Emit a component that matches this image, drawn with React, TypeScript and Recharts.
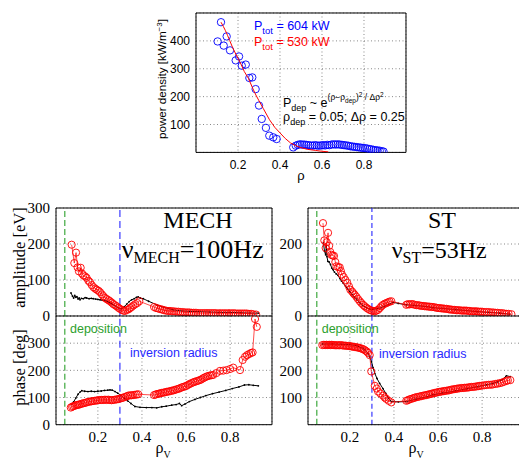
import React from 'react';
import { ComposedChart, Scatter, XAxis, YAxis, CartesianGrid, ReferenceLine } from 'recharts';

type P = [number, number];

// ---------- top panel: power density ----------
const powerMeasured: P[] = [
  [0.103, 398], [0.119, 467], [0.132, 383], [0.146, 416], [0.162, 366], [0.189, 330], [0.205, 344],
  [0.218, 311], [0.237, 315], [0.254, 267], [0.268, 269], [0.284, 227], [0.3, 168], [0.313, 120],
  [0.333, 88], [0.349, 60], [0.368, 54], [0.384, 48], [0.463, 18], [0.475, 24], [0.485, 27],
  [0.495, 29], [0.505, 28], [0.515, 28], [0.525, 27], [0.535, 26], [0.545, 25], [0.555, 24],
  [0.565, 26], [0.575, 25], [0.585, 24], [0.595, 25], [0.605, 26], [0.615, 25], [0.625, 27],
  [0.635, 26], [0.645, 28], [0.655, 29], [0.665, 28], [0.675, 29], [0.685, 28], [0.695, 27],
  [0.705, 26], [0.715, 25], [0.725, 24], [0.735, 22], [0.745, 21], [0.755, 20], [0.765, 19],
  [0.775, 18], [0.785, 17], [0.795, 16], [0.805, 15], [0.815, 14], [0.825, 12], [0.835, 11],
  [0.845, 9], [0.855, 8], [0.865, 7], [0.875, 6], [0.885, 4], [0.893, 3],
];
const powerFit: P[] = [
  [0.119, 467], [0.13, 452], [0.14, 437], [0.15, 420], [0.16, 402], [0.175, 375], [0.19, 352],
  [0.2, 338], [0.215, 315], [0.23, 290], [0.25, 265], [0.27, 230], [0.285, 206], [0.3, 185],
  [0.32, 158], [0.35, 117], [0.375, 90], [0.4, 70], [0.425, 50], [0.45, 34], [0.475, 24],
  [0.5, 17], [0.53, 11], [0.57, 7], [0.6, 4], [0.63, 2],
];
const topXTicks = [0.2, 0.4, 0.6, 0.8];
const topYTicks = [100, 200, 300, 400];

// ---------- MECH panels ----------
const mechAmpMeas: P[] = [
  [0.081, 198], [0.093, 147], [0.101, 176], [0.108, 135], [0.114, 124], [0.122, 134], [0.128, 118],
  [0.134, 113], [0.142, 110], [0.149, 106], [0.157, 98], [0.164, 94], [0.172, 86], [0.18, 80],
  [0.188, 76], [0.195, 73], [0.203, 70], [0.21, 66], [0.218, 60], [0.225, 55], [0.233, 50],
  [0.24, 47], [0.248, 44], [0.255, 41], [0.263, 37], [0.27, 33], [0.278, 30], [0.285, 27],
  [0.293, 23], [0.3, 20], [0.308, 17], [0.315, 15], [0.323, 14], [0.333, 17], [0.34, 19],
  [0.346, 22], [0.353, 25], [0.361, 29], [0.37, 33], [0.379, 36], [0.388, 41],
  [0.455, 25], [0.464, 22], [0.473, 21], [0.482, 19], [0.491, 18], [0.5, 16], [0.509, 15],
  [0.518, 14], [0.527, 14], [0.536, 13], [0.545, 13], [0.555, 12], [0.565, 12], [0.575, 11],
  [0.585, 11], [0.595, 10], [0.605, 10], [0.615, 10], [0.625, 9], [0.635, 9], [0.645, 9],
  [0.655, 8], [0.665, 8], [0.675, 8], [0.685, 8], [0.695, 8], [0.705, 8], [0.715, 8],
  [0.725, 8], [0.735, 8], [0.745, 7], [0.755, 8], [0.765, 7], [0.775, 8], [0.785, 7],
  [0.795, 8], [0.805, 7], [0.815, 8], [0.825, 7], [0.835, 7], [0.845, 7], [0.855, 7],
  [0.865, 7], [0.875, 7], [0.885, 6], [0.895, 6], [0.905, 5], [0.918, 4],
];
const mechAmpModel: P[] = [
  [0.078, 64], [0.085, 55], [0.09, 50], [0.095, 57], [0.1, 52], [0.105, 54], [0.11, 47],
  [0.115, 50], [0.119, 45], [0.125, 49], [0.134, 48], [0.142, 51], [0.149, 50], [0.16, 48],
  [0.17, 49], [0.179, 48], [0.19, 47], [0.2, 46], [0.21, 45], [0.22, 44], [0.23, 43],
  [0.24, 41], [0.25, 38], [0.26, 35], [0.27, 31], [0.28, 27], [0.293, 22], [0.308, 20],
  [0.32, 26], [0.331, 33], [0.342, 40], [0.353, 45], [0.365, 48], [0.375, 52], [0.383, 53],
  [0.392, 50], [0.406, 48], [0.43, 41], [0.467, 31], [0.5, 24], [0.542, 17], [0.58, 14],
  [0.618, 13], [0.66, 12], [0.709, 11], [0.75, 10], [0.8, 10], [0.85, 9], [0.89, 8], [0.928, 8],
];
const mechPhaseMeas: P[] = [
  [0.077, 63], [0.083, 66], [0.089, 68], [0.096, 70], [0.102, 72], [0.108, 73], [0.114, 74],
  [0.119, 75], [0.126, 77], [0.134, 79], [0.141, 80], [0.149, 82], [0.156, 84], [0.164, 85],
  [0.171, 86], [0.178, 87], [0.186, 88], [0.194, 89], [0.201, 90], [0.209, 91], [0.217, 91],
  [0.224, 91], [0.232, 92], [0.239, 91], [0.247, 92], [0.254, 91], [0.262, 90], [0.269, 91],
  [0.277, 92], [0.285, 93], [0.292, 94], [0.3, 96], [0.307, 98], [0.314, 99], [0.322, 102],
  [0.33, 104], [0.337, 107], [0.345, 108], [0.352, 108], [0.36, 109], [0.368, 110],
  [0.376, 111], [0.383, 112],
  [0.455, 109], [0.462, 111], [0.469, 113], [0.476, 114], [0.482, 115], [0.489, 117],
  [0.497, 118], [0.504, 119], [0.512, 121], [0.519, 122], [0.527, 123], [0.534, 125],
  [0.542, 126], [0.549, 128], [0.557, 130], [0.565, 132], [0.572, 134], [0.58, 137],
  [0.587, 139], [0.595, 141], [0.602, 143], [0.61, 147], [0.617, 150], [0.625, 153],
  [0.633, 156], [0.64, 158], [0.648, 160], [0.655, 162], [0.663, 164], [0.67, 167],
  [0.678, 171], [0.685, 174], [0.693, 177], [0.7, 179], [0.708, 181], [0.716, 182],
  [0.723, 183], [0.738, 190], [0.754, 198], [0.769, 199], [0.784, 201], [0.8, 205],
  [0.814, 210], [0.845, 201], [0.857, 238], [0.868, 250], [0.877, 256], [0.886, 260],
  [0.895, 264], [0.902, 266], [0.913, 389], [0.921, 360],
];
const mechPhaseModel: P[] = [
  [0.081, 75], [0.09, 84], [0.1, 98], [0.11, 112], [0.12, 121], [0.127, 125], [0.14, 123],
  [0.155, 122], [0.17, 123], [0.185, 122], [0.2, 123], [0.215, 124], [0.23, 126], [0.245, 127],
  [0.255, 128], [0.265, 127], [0.278, 122], [0.29, 116], [0.305, 108], [0.32, 98], [0.335, 88],
  [0.35, 78], [0.368, 67], [0.391, 64], [0.42, 63], [0.445, 63], [0.467, 62], [0.49, 66],
  [0.51, 68], [0.535, 72], [0.555, 74], [0.57, 78], [0.58, 70], [0.595, 76], [0.615, 85],
  [0.64, 93], [0.665, 100], [0.69, 107], [0.72, 114], [0.75, 120], [0.78, 126], [0.81, 133],
  [0.84, 139], [0.865, 146], [0.885, 147], [0.905, 145], [0.928, 143],
];

// ---------- ST panels ----------
const stAmpMeas: P[] = [
  [0.078, 258], [0.084, 210], [0.09, 189], [0.095, 205], [0.101, 231], [0.106, 195],
  [0.111, 178], [0.116, 170], [0.122, 168], [0.128, 167], [0.134, 150], [0.139, 138],
  [0.147, 136], [0.154, 135], [0.159, 125], [0.164, 115], [0.172, 108], [0.18, 100],
  [0.188, 92], [0.196, 82], [0.202, 73], [0.21, 68], [0.216, 63], [0.222, 59], [0.23, 53],
  [0.237, 47], [0.245, 41], [0.252, 36], [0.26, 31], [0.267, 27], [0.275, 23], [0.282, 20],
  [0.29, 17], [0.298, 15], [0.306, 14], [0.313, 13], [0.32, 15], [0.328, 17], [0.336, 22],
  [0.343, 27], [0.35, 31], [0.358, 34], [0.366, 36], [0.373, 38], [0.38, 40], [0.388, 41],
  [0.456, 31], [0.463, 33], [0.47, 32], [0.478, 33], [0.486, 33], [0.494, 31], [0.502, 30],
  [0.51, 30], [0.517, 29], [0.525, 28], [0.532, 28], [0.54, 27], [0.547, 27], [0.555, 26],
  [0.562, 26], [0.57, 25], [0.577, 25], [0.585, 24], [0.593, 23], [0.6, 22], [0.608, 22],
  [0.615, 21], [0.623, 21], [0.63, 20], [0.638, 20], [0.646, 19], [0.653, 18], [0.66, 18],
  [0.668, 17], [0.676, 17], [0.683, 16], [0.69, 16], [0.698, 16], [0.706, 15], [0.714, 15],
  [0.721, 15], [0.729, 15], [0.737, 14], [0.744, 14], [0.752, 13], [0.76, 13], [0.768, 13],
  [0.776, 13], [0.784, 12], [0.792, 12], [0.8, 12], [0.81, 11], [0.82, 11], [0.83, 11],
  [0.84, 10], [0.85, 10], [0.86, 9], [0.87, 9], [0.88, 8], [0.89, 8], [0.9, 7], [0.91, 6],
  [0.92, 6], [0.933, 5],
];
const stAmpModel: P[] = [
  [0.08, 203], [0.085, 180], [0.09, 170], [0.093, 195], [0.096, 165], [0.1, 152], [0.106, 150],
  [0.112, 143], [0.118, 133], [0.123, 129], [0.13, 122], [0.138, 117], [0.146, 113],
  [0.155, 104], [0.162, 97], [0.169, 92], [0.18, 83], [0.19, 75], [0.199, 68], [0.21, 60],
  [0.22, 53], [0.23, 47], [0.245, 37], [0.26, 29], [0.275, 23], [0.29, 19], [0.305, 19],
  [0.32, 20], [0.34, 23], [0.358, 27], [0.375, 32], [0.396, 38], [0.42, 35], [0.456, 31],
  [0.5, 29], [0.55, 26], [0.577, 23], [0.62, 21], [0.68, 18], [0.729, 15], [0.78, 12],
  [0.83, 10], [0.88, 8], [0.925, 5],
];
const stPhaseMeas: P[] = [
  [0.075, 293], [0.082, 294], [0.088, 293], [0.094, 294], [0.1, 293], [0.106, 294], [0.112, 293],
  [0.118, 294], [0.124, 293], [0.13, 293], [0.137, 292], [0.144, 293], [0.151, 292],
  [0.158, 293], [0.165, 292], [0.172, 291], [0.179, 291], [0.186, 290], [0.193, 290],
  [0.2, 289], [0.207, 288], [0.214, 287], [0.221, 286], [0.228, 285], [0.235, 284],
  [0.242, 283], [0.249, 281], [0.256, 279], [0.263, 277], [0.27, 273], [0.277, 269],
  [0.283, 264], [0.29, 256], [0.297, 196], [0.313, 143], [0.322, 133], [0.328, 122],
  [0.338, 115], [0.35, 107], [0.358, 100], [0.365, 95], [0.376, 88], [0.388, 82],
  [0.456, 88], [0.463, 90], [0.47, 93], [0.478, 95], [0.486, 97], [0.493, 99], [0.5, 101],
  [0.508, 102], [0.517, 104], [0.524, 105], [0.532, 107], [0.54, 108], [0.547, 109],
  [0.555, 111], [0.562, 112], [0.57, 114], [0.577, 115], [0.585, 117], [0.592, 118],
  [0.6, 120], [0.608, 121], [0.615, 122], [0.623, 123], [0.63, 124], [0.638, 125],
  [0.646, 126], [0.653, 127], [0.66, 129], [0.668, 130], [0.676, 131], [0.683, 132],
  [0.69, 133], [0.698, 134], [0.706, 135], [0.714, 135], [0.721, 136], [0.729, 136],
  [0.737, 137], [0.744, 138], [0.752, 139], [0.76, 139], [0.768, 140], [0.776, 141],
  [0.784, 142], [0.79, 143], [0.8, 144], [0.81, 145], [0.82, 146], [0.83, 147], [0.84, 147],
  [0.849, 148], [0.86, 150], [0.87, 151], [0.88, 153], [0.89, 155], [0.9, 158], [0.91, 161],
  [0.917, 163], [0.928, 164],
];
const stPhaseModel: P[] = [
  [0.075, 297], [0.12, 297], [0.16, 296], [0.196, 295], [0.23, 291], [0.258, 281], [0.27, 274],
  [0.282, 262], [0.29, 250], [0.298, 232], [0.305, 210], [0.313, 189], [0.323, 170],
  [0.335, 152], [0.35, 133], [0.363, 115], [0.375, 98], [0.388, 85], [0.42, 84], [0.456, 85],
  [0.5, 94], [0.55, 103], [0.577, 110], [0.62, 116], [0.68, 124], [0.729, 132], [0.78, 140],
  [0.82, 147], [0.849, 152], [0.87, 158], [0.89, 165], [0.91, 180], [0.928, 177],
];

const bottomXTicks = [0.2, 0.4, 0.6, 0.8];
const ampTicksLeft = [0, 100, 200, 300];
const ampTicksRight = [0, 100, 200];
const phaseTicksLeft = [0, 100, 200, 300];
const phaseTicksRight = [100, 200, 300];
const depositionRho = 0.05;
const inversionRho = 0.3;

const SANS = 'Liberation Sans, Arial, sans-serif';
const SERIF = 'Liberation Serif, Times New Roman, serif';
const RED = '#ff0000';
const BLUE = '#0000ff';
const GREEN = '#2ca02c';
const DBLUE = '#2828ff';

type Series = { data: P[]; kind: 'circle' | 'model' | 'curve'; color: string; r?: number; connect?: boolean };
type VLine = { x: number; color: string; dash: string };

interface PanelProps {
  plotLeft: number; plotTop: number; plotW: number; plotH: number;
  yAxisW: number; xAxisH: number;
  xDomain: [number, number]; yDomain: [number, number];
  xTicks: number[]; yTicks: number[];
  showXTicks: boolean;
  font: string; fontSize: number;
  xTickMargin: number; yTickMargin: number;
  vlines?: VLine[];
  series: Series[];
}

const toPts = (a: P[]) => a.map(([x, y]) => ({ x, y }));

function Panel(p: PanelProps) {
  const m = { top: 10, right: 2, bottom: 10, left: 0 };
  const w = p.yAxisW + p.plotW + m.right;
  const h = m.top + p.plotH + p.xAxisH + m.bottom;
  const tickStyle = { fontFamily: p.font, fontSize: p.fontSize, fill: '#000' };
  return (
    <div style={{ position: 'absolute', left: p.plotLeft - p.yAxisW, top: p.plotTop - m.top }}>
      <ComposedChart width={w} height={h} margin={m} style={{ overflow: 'visible' }}>
        <CartesianGrid stroke="#555" strokeDasharray="1 2.5" strokeWidth={0.7} />
        <XAxis
          type="number" dataKey="x" domain={p.xDomain} ticks={p.xTicks} interval={0}
          allowDataOverflow height={p.xAxisH} tickLine={false} tickSize={0}
          tickMargin={p.xTickMargin} tick={p.showXTicks ? tickStyle : false}
          axisLine={{ stroke: '#000', strokeWidth: 1 }}
        />
        <YAxis
          type="number" dataKey="y" domain={p.yDomain} ticks={p.yTicks} interval={0}
          allowDataOverflow width={p.yAxisW} tickLine={false} tickSize={0}
          tickMargin={p.yTickMargin} tick={tickStyle}
          axisLine={{ stroke: '#000', strokeWidth: 1 }}
        />
        <ReferenceLine y={p.yDomain[1]} stroke="#000" strokeWidth={1} />
        <ReferenceLine x={p.xDomain[1]} stroke="#000" strokeWidth={1} />
        {(p.vlines || []).map((v, i) => (
          <ReferenceLine key={'v' + i} x={v.x} stroke={v.color} strokeWidth={1.1} strokeDasharray={v.dash} />
        ))}
        {p.series.map((s, i) => {
          const r = s.r ?? 3.6;
          const shape =
            s.kind === 'circle'
              ? (props: any) => <circle cx={props.cx} cy={props.cy} r={r} fill="none" stroke={s.color} strokeWidth={0.9} />
              : s.kind === 'model'
              ? (props: any) => <circle cx={props.cx} cy={props.cy} r={0.9} fill={s.color} />
              : () => <g />;
          const connect = s.kind !== 'circle' || s.connect;
          return (
            <Scatter
              key={'s' + i}
              data={toPts(s.data)}
              fill={s.color}
              isAnimationActive={false}
              shape={shape}
              line={connect ? { stroke: s.color, strokeWidth: s.kind === 'circle' ? 0.7 : 1 } : false}
            />
          );
        })}
      </ComposedChart>
    </div>
  );
}

const bottomCommon = {
  plotW: 216, yAxisW: 50, xDomain: [0.01, 0.99] as [number, number], xTicks: bottomXTicks,
  font: SERIF, fontSize: 15, xTickMargin: 7, yTickMargin: 6,
};
const vl = (blueDash: string): VLine[] => [
  { x: depositionRho, color: GREEN, dash: '6 3' },
  { x: inversionRho, color: DBLUE, dash: blueDash },
];

export default function App() {
  return (
    <div style={{ position: 'absolute', left: 0, top: 0, width: 519, height: 460, overflow: 'hidden', background: '#fff' }}>
      {/* top panel */}
      <Panel
        plotLeft={196} plotTop={13.3} plotW={210} plotH={139.4} yAxisW={45} xAxisH={25}
        xDomain={[0, 1]} yDomain={[0, 500]} xTicks={topXTicks} yTicks={topYTicks}
        showXTicks font={SANS} fontSize={12} xTickMargin={8} yTickMargin={6}
        series={[
          { data: powerMeasured, kind: 'circle', color: BLUE, r: 3.7 },
          { data: powerFit, kind: 'curve', color: RED },
        ]}
      />
      {/* MECH amplitude */}
      <Panel
        {...bottomCommon} plotLeft={56} plotTop={208.3} plotH={108} xAxisH={0}
        yDomain={[0, 300]} yTicks={ampTicksLeft} showXTicks={false} vlines={vl('7 4')}
        series={[
          { data: mechAmpModel, kind: 'model', color: '#000' },
          { data: mechAmpMeas, kind: 'circle', color: RED, connect: true },
        ]}
      />
      {/* MECH phase */}
      <Panel
        {...bottomCommon} plotLeft={56} plotTop={316.3} plotH={108.7} xAxisH={30}
        yDomain={[0, 400]} yTicks={phaseTicksLeft} showXTicks vlines={vl('7 4')}
        series={[
          { data: mechPhaseModel, kind: 'model', color: '#000' },
          { data: mechPhaseMeas, kind: 'circle', color: RED, connect: true },
        ]}
      />
      {/* ST amplitude */}
      <Panel
        {...bottomCommon} plotLeft={308.3} plotTop={208.3} plotH={108} xAxisH={0}
        yDomain={[0, 300]} yTicks={ampTicksRight} showXTicks={false} vlines={vl('5 3')}
        series={[
          { data: stAmpModel, kind: 'model', color: '#000' },
          { data: stAmpMeas, kind: 'circle', color: RED, connect: true },
        ]}
      />
      {/* ST phase */}
      <Panel
        {...bottomCommon} plotLeft={308.3} plotTop={316.3} plotH={108.7} xAxisH={30}
        yDomain={[0, 400]} yTicks={phaseTicksRight} showXTicks vlines={vl('5 3')}
        series={[
          { data: stPhaseModel, kind: 'model', color: '#000' },
          { data: stPhaseMeas, kind: 'circle', color: RED, connect: true },
        ]}
      />

      {/* text overlay */}
      <svg width={519} height={460} style={{ position: 'absolute', left: 0, top: 0, pointerEvents: 'none' }}>
        {/* top panel texts */}
        <g fontFamily={SANS}>
          <text x={254} y={30} fill={BLUE} fontSize={12.5}>
            P<tspan fontSize={9.5} dy={4}>tot</tspan><tspan dy={-4}> = 604 kW</tspan>
          </text>
          <text x={254} y={45.7} fill={RED} fontSize={12.5}>
            P<tspan fontSize={9.5} dy={4}>tot</tspan><tspan dy={-4}> = 530 kW</tspan>
          </text>
          <text x={283} y={107} fill="#000" fontSize={12.5}>
            P<tspan fontSize={9} dy={4}>dep</tspan>
            <tspan dy={-4}> ~ e</tspan>
            <tspan fontSize={8.5} dy={-7}>(ρ−ρ</tspan>
            <tspan fontSize={6.5} dy={2.5}>dep</tspan>
            <tspan fontSize={8.5} dy={-2.5}>)</tspan>
            <tspan fontSize={6.5} dy={-3}>2</tspan>
            <tspan fontSize={8.5} dy={3}> / Δρ</tspan>
            <tspan fontSize={6.5} dy={-3}>2</tspan>
          </text>
          <text x={283} y={121} fill="#000" fontSize={12.5}>
            ρ<tspan fontSize={9} dy={4}>dep</tspan><tspan dy={-4}> = 0.05; Δρ = 0.25</tspan>
          </text>
          <text transform="translate(166,79) rotate(-90)" textAnchor="middle" fontSize={11.6} fill="#000">
            power density [kW/m<tspan fontSize={8} dy={-4}>−3</tspan><tspan dy={4}>]</tspan>
          </text>
          <text x={301} y={180} textAnchor="middle" fontSize={13} fill="#000">ρ</text>
        </g>
        {/* bottom panel texts */}
        <g fontFamily={SERIF} fill="#000">
          <text x={198} y={228} textAnchor="middle" fontSize={24}>MECH</text>
          <text x={121.7} y={258} fontSize={26}>
            ν<tspan fontSize={16} dy={5}>MECH</tspan><tspan dy={-5}>=100Hz</tspan>
          </text>
          <text x={442} y={228} textAnchor="middle" fontSize={24}>ST</text>
          <text x={391.7} y={258} fontSize={24}>
            ν<tspan fontSize={16} dy={5}>ST</tspan><tspan dy={-5}>=53Hz</tspan>
          </text>
          <text transform="translate(25,257.5) rotate(-90)" textAnchor="middle" fontSize={16.5}>amplitude [eV]</text>
          <text transform="translate(25,367.5) rotate(-90)" textAnchor="middle" fontSize={16.5}>phase [deg]</text>
          <text x={163} y={453} textAnchor="middle" fontSize={16}>
            ρ<tspan fontSize={10} dy={5}>V</tspan>
          </text>
          <text x={416} y={453} textAnchor="middle" fontSize={16}>
            ρ<tspan fontSize={10} dy={5}>V</tspan>
          </text>
        </g>
        <g fontFamily={SANS} fontSize={12.5}>
          <text x={70} y={333} fill={GREEN}>deposition</text>
          <text x={130} y={357} fill={DBLUE}>inversion radius</text>
          <text x={321.7} y={333} fill={GREEN}>deposition</text>
          <text x={379} y={358} fill={DBLUE}>inversion radius</text>
        </g>
      </svg>
    </div>
  );
}
